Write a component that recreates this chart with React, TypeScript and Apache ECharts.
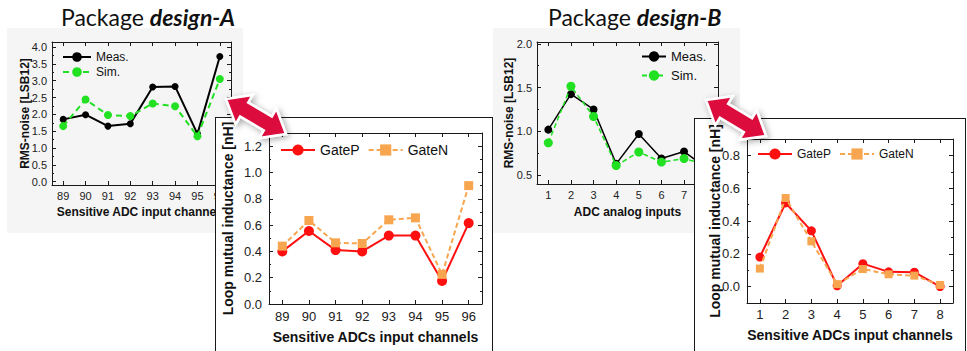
import React, { useEffect, useRef } from 'react';
import * as echarts from 'echarts';

// ---- data ----
const channelsA = ['89', '90', '91', '92', '93', '94', '95', '96'];
const measA = [1.85, 1.99, 1.65, 1.72, 2.81, 2.83, 1.42, 3.72];
const simA = [1.65, 2.44, 1.98, 1.95, 2.32, 2.24, 1.35, 3.05];
const gatePA = [0.4, 0.555, 0.41, 0.4, 0.52, 0.52, 0.175, 0.615];
const gateNA = [0.44, 0.635, 0.465, 0.46, 0.64, 0.655, 0.225, 0.9];

const inputsB = ['1', '2', '3', '4', '5', '6', '7', '8'];
const measB = [1.02, 1.425, 1.25, 0.63, 0.97, 0.69, 0.77, 0.58];
const simB = [0.87, 1.515, 1.17, 0.61, 0.765, 0.65, 0.69, 0.62];
const gatePB = [0.18, 0.51, 0.34, 0.005, 0.14, 0.09, 0.088, 0.0];
const gateNB = [0.11, 0.54, 0.276, 0.015, 0.107, 0.075, 0.067, 0.01];

const noiseTicksA = [0, 0.5, 1, 1.5, 2, 2.5, 3, 3.5, 4];
const noiseMinorA = [0.25, 0.75, 1.25, 1.75, 2.25, 2.75, 3.25, 3.75];
const noiseTicksB = [0.5, 1, 1.5, 2];
const noiseMinorB = [0.75, 1.25, 1.75];
const inductTicksA = [0, 0.2, 0.4, 0.6, 0.8, 1, 1.2];
const inductMinorA = [0.1, 0.3, 0.5, 0.7, 0.9, 1.1];
const inductTicksB = [0, 0.2, 0.4, 0.6, 0.8];
const inductMinorB = [-0.1, 0.1, 0.3, 0.5, 0.7];

const FONT = '"Liberation Sans", Arial, Helvetica, sans-serif';
const TITLE_FONT = 'Lato, "Open Sans", sans-serif';
const FRAME = '#1a1a1a';
const RED = '#ff1010';
const ORANGE = '#f7a54e';
const GREEN = '#22e022';
const CRIMSON = '#dc0c3e';

interface FrameSpec {
  grid: { left: number; top: number; width: number; height: number };
  categories: string[];
  yMin: number;
  yMax: number;
  major: number[];
  minor: number[];
  labelSize: number;
  xLabelMargin: number;
  yLabelMargin: number;
  xName: string;
  yName: string;
  nameSize: number;
  xNameGap: number;
  yNameGap: number;
  tickLen: number;
}

// Origin-style boxed frame: ticks on all four sides, minor ticks on the value sides.
function frame(p: FrameSpec) {
  const line = { color: FRAME, width: 1 };
  const nameStyle = { fontFamily: FONT, fontWeight: 'bold', fontSize: p.nameSize, color: '#111' };
  const xBase = {
    type: 'category',
    data: p.categories,
    boundaryGap: true,
    splitLine: { show: false },
    axisLine: { show: true, onZero: false, lineStyle: line },
    axisTick: { show: true, inside: true, alignWithLabel: true, length: p.tickLen, lineStyle: line },
  };
  const xAxis = [
    {
      ...xBase,
      position: 'bottom',
      axisLabel: { fontSize: p.labelSize, color: '#222', fontFamily: FONT, margin: p.xLabelMargin },
      name: p.xName,
      nameLocation: 'middle',
      nameGap: p.xNameGap,
      nameTextStyle: nameStyle,
    },
    { ...xBase, position: 'top', axisLabel: { show: false } },
  ];
  const yBase = {
    type: 'value',
    min: p.yMin,
    max: p.yMax,
    splitLine: { show: false },
    axisLine: { show: false, onZero: false },
  };
  const majorTick = { show: true, inside: true, length: p.tickLen, customValues: p.major, lineStyle: line };
  const minorTick = { show: true, inside: true, length: p.tickLen / 2, customValues: p.minor, lineStyle: line };
  const yAxis = [
    {
      ...yBase,
      position: 'left',
      axisLine: { show: true, onZero: false, lineStyle: line },
      axisTick: majorTick,
      axisLabel: {
        customValues: p.major,
        formatter: (v: number) => v.toFixed(1),
        fontSize: p.labelSize,
        color: '#222',
        fontFamily: FONT,
        margin: p.yLabelMargin,
      },
      name: p.yName,
      nameLocation: 'middle',
      nameRotate: 90,
      nameGap: p.yNameGap,
      nameMoveOverlap: false,
      nameTextStyle: nameStyle,
    },
    {
      ...yBase,
      position: 'right',
      axisLine: { show: true, onZero: false, lineStyle: line },
      axisTick: majorTick,
      axisLabel: { show: false },
    },
    { ...yBase, position: 'left', axisTick: minorTick, axisLabel: { show: false } },
    { ...yBase, position: 'right', axisTick: minorTick, axisLabel: { show: false } },
  ];
  return { grid: { ...p.grid, outerBoundsMode: 'none' }, xAxis, yAxis };
}

function lineSeries(name: string, data: number[], color: string, opts: any) {
  return {
    type: 'line',
    name,
    data,
    xAxisIndex: 0,
    yAxisIndex: 0,
    symbol: opts.symbol,
    symbolSize: opts.size,
    lineStyle: { color, width: opts.width, type: opts.dash || 'solid' },
    itemStyle: { color },
    z: opts.z,
  };
}

function titleOf(label: string, left: number) {
  return {
    text: `{r|Package }{b|${label}}`,
    left,
    top: 0,
    textStyle: {
      fontWeight: 'normal',
      rich: {
        r: { fontFamily: TITLE_FONT, fontSize: 23, color: '#111', fontWeight: 'normal' },
        b: { fontFamily: TITLE_FONT, fontSize: 23, color: '#111', fontWeight: 'bold', fontStyle: 'italic' },
      },
    },
  };
}

const noiseOptionA = {
  animation: false,
  title: titleOf('design-A', 56),
  ...frame({
    grid: { left: 52, top: 42, width: 179, height: 143 },
    categories: channelsA,
    yMin: -0.1,
    yMax: 4.15,
    major: noiseTicksA,
    minor: noiseMinorA,
    labelSize: 11,
    xLabelMargin: 5,
    yLabelMargin: 5,
    xName: 'Sensitive ADC input channels',
    yName: 'RMS-noise [LSB12]',
    nameSize: 12,
    xNameGap: 20,
    yNameGap: 21,
    tickLen: 4,
  }),
  legend: {
    orient: 'vertical',
    left: 62,
    top: 51,
    padding: 0,
    itemWidth: 28,
    itemHeight: 12,
    itemGap: 3,
    textStyle: { fontFamily: FONT, fontSize: 12, color: '#111' },
    data: ['Meas.', 'Sim.'],
  },
  series: [
    lineSeries('Meas.', measA, '#000000', { symbol: 'circle', size: 7, width: 2, z: 3 }),
    lineSeries('Sim.', simA, GREEN, { symbol: 'circle', size: 8, width: 2, dash: [6, 4], z: 4 }),
  ],
};

const noiseOptionB = {
  animation: false,
  title: titleOf('design-B', 63),
  ...frame({
    grid: { left: 57, top: 42, width: 181, height: 142 },
    categories: inputsB,
    yMin: 0.4,
    yMax: 2.02,
    major: noiseTicksB,
    minor: noiseMinorB,
    labelSize: 11,
    xLabelMargin: 5,
    yLabelMargin: 5,
    xName: 'ADC analog inputs',
    yName: 'RMS-noise [LSB12]',
    nameSize: 12,
    xNameGap: 22,
    yNameGap: 22,
    tickLen: 4,
  }),
  legend: {
    orient: 'vertical',
    left: 161,
    top: 50,
    padding: 0,
    itemWidth: 24,
    itemHeight: 13,
    itemGap: 6,
    textStyle: { fontFamily: FONT, fontSize: 13, color: '#111' },
    data: ['Meas.', 'Sim.'],
  },
  series: [
    lineSeries('Meas.', measB, '#000000', { symbol: 'circle', size: 8, width: 1.5, z: 3 }),
    lineSeries('Sim.', simB, GREEN, { symbol: 'circle', size: 9, width: 1.5, dash: [5, 3], z: 4 }),
  ],
};

const inductOptionA = {
  animation: false,
  ...frame({
    grid: { left: 53, top: 15, width: 213, height: 171 },
    categories: channelsA,
    yMin: 0,
    yMax: 1.3,
    major: inductTicksA,
    minor: inductMinorA,
    labelSize: 13,
    xLabelMargin: 6,
    yLabelMargin: 7,
    xName: 'Sensitive ADCs input channels',
    yName: 'Loop mutual inductance [nH]',
    nameSize: 14,
    xNameGap: 26,
    yNameGap: 34,
    tickLen: 4,
  }),
  legend: {
    orient: 'horizontal',
    left: 64,
    top: 25,
    padding: 0,
    itemWidth: 34,
    itemHeight: 14,
    itemGap: 8,
    textStyle: { fontFamily: FONT, fontSize: 14, color: '#111' },
    data: ['GateP', 'GateN'],
  },
  series: [
    lineSeries('GateP', gatePA, RED, { symbol: 'circle', size: 10, width: 2, z: 3 }),
    lineSeries('GateN', gateNA, ORANGE, { symbol: 'rect', size: 9, width: 2, dash: [5, 3], z: 4 }),
  ],
};

const inductOptionB = {
  animation: false,
  ...frame({
    grid: { left: 52, top: 20, width: 206, height: 164 },
    categories: inputsB,
    yMin: -0.1,
    yMax: 0.9,
    major: inductTicksB,
    minor: inductMinorB,
    labelSize: 13,
    xLabelMargin: 5,
    yLabelMargin: 7,
    xName: 'Sensitive ADCs input channels',
    yName: 'Loop mutual inductance [nH]',
    nameSize: 14,
    xNameGap: 25,
    yNameGap: 25,
    tickLen: 4,
  }),
  legend: {
    orient: 'horizontal',
    left: 62,
    top: 29,
    padding: 0,
    itemWidth: 34,
    itemHeight: 14,
    itemGap: 8,
    textStyle: { fontFamily: FONT, fontSize: 12, color: '#111' },
    data: ['GateP', 'GateN'],
  },
  series: [
    lineSeries('GateP', gatePB, RED, { symbol: 'circle', size: 9, width: 2, z: 3 }),
    lineSeries('GateN', gateNB, ORANGE, { symbol: 'rect', size: 8, width: 2, dash: [5, 3], z: 4 }),
  ],
};

// Double-headed block arrow outline between two tips.
function doubleArrow(x1: number, y1: number, x2: number, y2: number, head: number, half: number, shaft: number) {
  const L = Math.hypot(x2 - x1, y2 - y1);
  const ux = (x2 - x1) / L;
  const uy = (y2 - y1) / L;
  const nx = -uy;
  const ny = ux;
  const at = (bx: number, by: number, along: number, side: number) => [bx + ux * along + nx * side, by + uy * along + ny * side];
  return [
    [x1, y1],
    at(x1, y1, head, half),
    at(x1, y1, head, shaft),
    at(x2, y2, -head, shaft),
    at(x2, y2, -head, half),
    [x2, y2],
    at(x2, y2, -head, -half),
    at(x2, y2, -head, -shaft),
    at(x1, y1, head, -shaft),
    at(x1, y1, head, -half),
  ];
}

const arrowStyle = {
  fill: CRIMSON,
  stroke: '#ffffff',
  lineWidth: 2.5,
  lineJoin: 'miter',
  shadowBlur: 6,
  shadowOffsetX: 2,
  shadowOffsetY: 2,
  shadowColor: 'rgba(0,0,0,0.35)',
};

const overlayOption = {
  animation: false,
  graphic: [
    { type: 'polygon', shape: { points: doubleArrow(226, 99, 286, 134, 21, 17, 8) }, style: arrowStyle },
    { type: 'polygon', shape: { points: doubleArrow(706, 100, 766, 136, 21, 17, 8) }, style: arrowStyle },
  ],
};

function Chart({ option, style }: { option: any; style: React.CSSProperties }) {
  const ref = useRef<HTMLDivElement>(null);
  useEffect(() => {
    if (!ref.current) return;
    const chart = echarts.init(ref.current, null, { renderer: 'svg' });
    chart.setOption(option);
    return () => chart.dispose();
  }, [option]);
  return <div ref={ref} style={style} />;
}

const panelBox = (left: number, top: number, width: number, height: number): React.CSSProperties => ({
  position: 'absolute',
  left,
  top,
  width,
  height,
  background: '#ffffff',
  borderTop: `1px solid ${FRAME}`,
  borderLeft: `1px solid ${FRAME}`,
  borderRight: `1px solid ${FRAME}`,
  boxSizing: 'border-box',
});

export default function App() {
  return (
    <div
      style={{
        position: 'fixed',
        left: 0,
        top: 0,
        width: 967,
        height: 351,
        overflow: 'hidden',
        background: '#ffffff',
      }}
    >
      <div style={{ position: 'absolute', left: 7, top: 28, width: 236, height: 205, background: '#f5f5f5' }} />
      <div style={{ position: 'absolute', left: 493, top: 28, width: 247, height: 205, background: '#f5f5f5' }} />
      <Chart option={noiseOptionA} style={{ position: 'absolute', left: 0, top: 0, width: 255, height: 240 }} />
      <Chart option={noiseOptionB} style={{ position: 'absolute', left: 480, top: 0, width: 270, height: 240 }} />
      <div style={panelBox(215, 117, 278, 234)}>
        <Chart option={inductOptionA} style={{ position: 'absolute', left: 0, top: 0, width: 276, height: 233 }} />
      </div>
      <div style={panelBox(694, 118, 272, 233)}>
        <Chart option={inductOptionB} style={{ position: 'absolute', left: 0, top: 0, width: 270, height: 232 }} />
      </div>
      <Chart
        option={overlayOption}
        style={{ position: 'absolute', left: 0, top: 0, width: 967, height: 351, pointerEvents: 'none' }}
      />
    </div>
  );
}
